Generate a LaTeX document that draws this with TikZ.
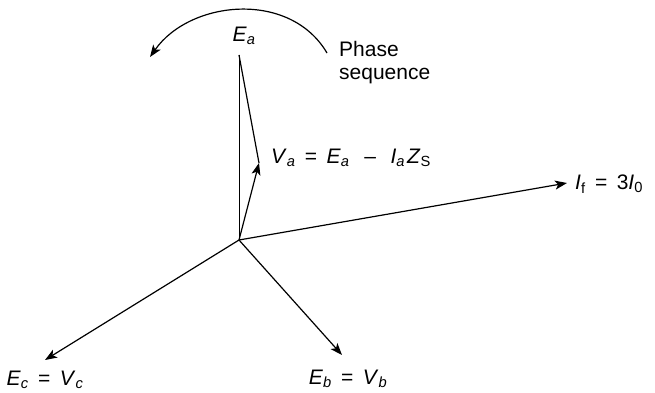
\documentclass[tikz,border=0pt]{standalone}
\usepackage{fontspec}
\setmainfont{Liberation Sans}
\usetikzlibrary{arrows.meta}
\newcommand\vsb[2]{\textit{#1}\textsubscript{\textit{#2}}}
\newcommand\qq{\hspace{0.45em}}
\begin{document}
\begin{tikzpicture}[x=1pt,y=-1pt,
  vec/.style={line width=1.2pt,-{Stealth[length=12pt,width=9pt,inset=3pt]}},
  lbl/.style={font=\fontsize{21}{23}\selectfont,inner sep=0pt}]
\useasboundingbox (0,0) rectangle (655,393);
\coordinate (O) at (239,240);
\coordinate (Ea) at (239,55);
\coordinate (Va) at (259,163);
\coordinate (If) at (567,183);
\coordinate (Ec) at (45,360);
\coordinate (Eb) at (342,355);
\coordinate (A1) at (327,53);
\coordinate (A2) at (150,57);
\draw[line width=0.9pt] (O) -- (Ea);
\draw[line width=1.2pt] (Ea) -- (Va);
\draw[vec] (O) -- (Va);
\draw[vec] (O) -- (If);
\draw[vec] (O) -- (Ec);
\draw[vec] (O) -- (Eb);
\draw[vec] (A1) .. controls (290,-10) and (190,0) .. (A2);
\node[lbl] (lEa) at (244,36) {\vsb{E}{a}};
\node[lbl,align=left,anchor=west] (lps) at (339,63) {Phase\\sequence};
\node[lbl,anchor=west] (lVa) at (271,158) {\vsb{V}{a}\qq=\qq\vsb{E}{a}\hspace{0.7em}–\hspace{0.7em}\vsb{I}{a}\hspace{0.1em}\textit{Z}\textsubscript{S}};
\node[lbl,anchor=west] (lIf) at (575,184) {\textit{I}\textsubscript{f}\qq=\qq3\textit{I}\textsubscript{0}};
\node[lbl] (lEc) at (45,380) {\vsb{E}{c}\qq=\qq\vsb{V}{c}};
\node[lbl] (lEb) at (348,379) {\vsb{E}{b}\qq=\qq\vsb{V}{b}};
\end{tikzpicture}
\end{document}
